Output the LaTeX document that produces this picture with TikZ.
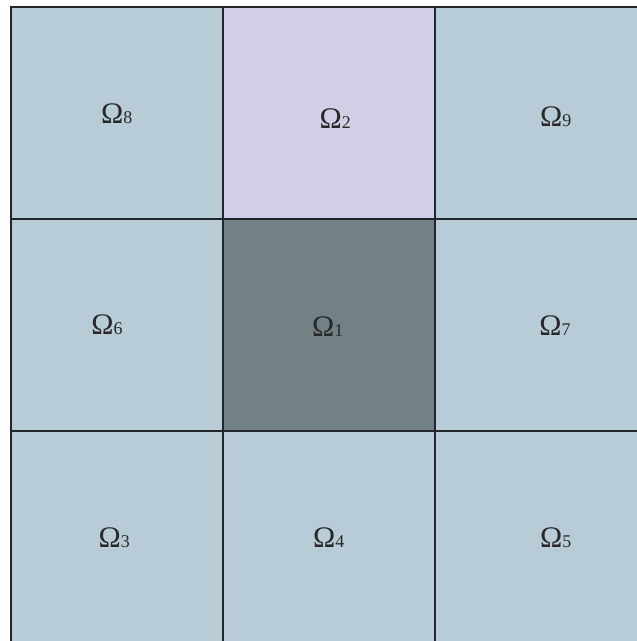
\documentclass[tikz,border=0pt]{standalone}
\usepackage{fontspec}
\setmainfont{Liberation Serif}
\usetikzlibrary{positioning}
\definecolor{cellblue}{RGB}{184,204,216}
\definecolor{celllilac}{RGB}{211,205,230}
\definecolor{cellgray}{RGB}{115,128,133}
\definecolor{gridline}{RGB}{34,38,40}
\definecolor{labelink}{RGB}{40,40,40}
\newcommand{\omlabel}[1]{{\fontsize{30}{30}\selectfont Ω}{\fontsize{18}{18}\selectfont #1}}

\begin{document}
\begin{tikzpicture}[
    x=1bp, y=-1bp,
    cell/.style={
        draw=gridline, line width=2bp, fill=cellblue,
        minimum size=212bp, inner sep=0pt, outer sep=0pt
      },
    omega/.style={inner sep=0pt, text=labelink},
    node distance=0pt
  ]
  \useasboundingbox (0,0) rectangle (637,641);
  \clip (0,0) rectangle (637,641);

  % centre cell and its neighbours
  \node[cell, fill=cellgray] (om1) at (329,325) {};
  \node[cell, fill=celllilac, above=of om1] (om2) {};
  \node[cell, left=of om1] (om6) {};
  \node[cell, right=of om1] (om7) {};
  \node[cell, below=of om1] (om4) {};

  % corners
  \node[cell, left=of om2] (om8) {};
  \node[cell, right=of om2] (om9) {};
  \node[cell, left=of om4] (om3) {};
  \node[cell, right=of om4] (om5) {};

  % labels
  \node[omega] (lab8) at (116.7,114) {\omlabel{8}};
  \node[omega] (lab2) at (335.3,118.7) {\omlabel{2}};
  \node[omega] (lab9) at (555.8,116.7) {\omlabel{9}};
  \node[omega] (lab6) at (107,324.7) {\omlabel{6}};
  \node[omega] (lab1) at (327.8,326.3) {\omlabel{1}};
  \node[omega] (lab7) at (555,325.8) {\omlabel{7}};
  \node[omega] (lab3) at (114.2,537.8) {\omlabel{3}};
  \node[omega] (lab4) at (328.7,537.7) {\omlabel{4}};
  \node[omega] (lab5) at (555.8,537.7) {\omlabel{5}};

\end{tikzpicture}
\end{document}
